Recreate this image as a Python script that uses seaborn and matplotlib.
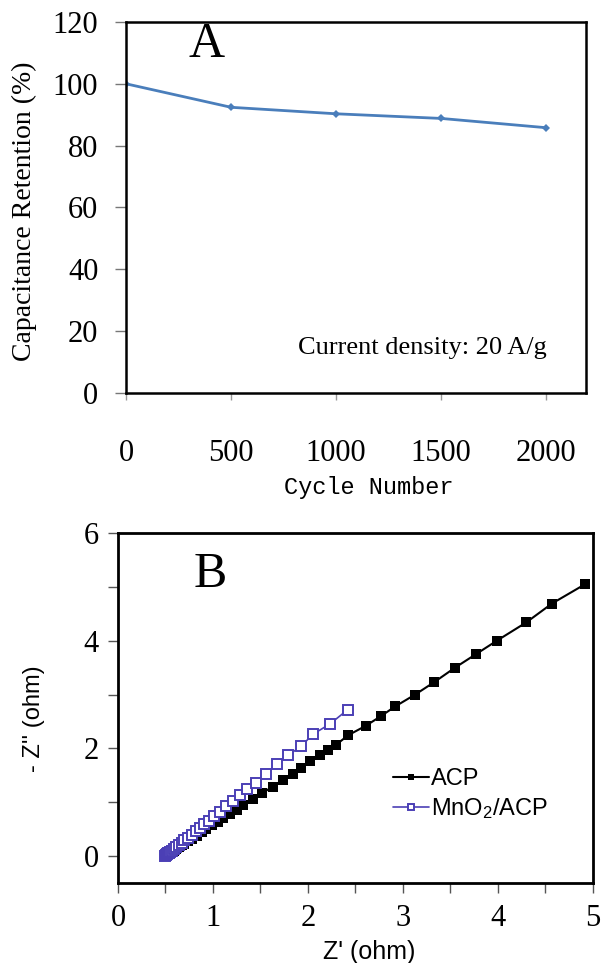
import matplotlib
matplotlib.use('Agg')
import matplotlib.pyplot as plt
import seaborn as sns
import pandas as pd
from matplotlib.ticker import MultipleLocator

sns.set_style('ticks')
plt.rcParams['font.family'] = ['Liberation Serif', 'DejaVu Serif']
plt.rcParams['mathtext.default'] = 'regular'
plt.rcParams['text.color'] = 'black'
plt.rcParams['axes.labelcolor'] = 'black'
plt.rcParams['xtick.labelcolor'] = 'black'
plt.rcParams['ytick.labelcolor'] = 'black'

# panel A: cycling stability
cycles = [0, 500, 1000, 1500, 2000]
retention = [100, 92.4, 90.3, 88.8, 85.8]

# panel B: Nyquist plots
acp_re = [0.50, 0.51, 0.52, 0.53, 0.55, 0.57, 0.59, 0.61, 0.64, 0.67, 0.70, 0.74,
          0.78, 0.83, 0.88, 0.93, 0.99, 1.05, 1.11, 1.18, 1.25, 1.32, 1.42, 1.52,
          1.63, 1.74, 1.84, 1.93, 2.02, 2.13, 2.21, 2.30, 2.42, 2.61, 2.77, 2.92,
          3.13, 3.33, 3.55, 3.77, 3.99, 4.30, 4.57, 4.92]
acp_im = [0.00, 0.01, 0.02, 0.03, 0.05, 0.08, 0.10, 0.13, 0.16, 0.20, 0.23, 0.28,
          0.32, 0.38, 0.44, 0.50, 0.57, 0.63, 0.70, 0.78, 0.86, 0.95, 1.06, 1.17,
          1.29, 1.42, 1.53, 1.64, 1.76, 1.88, 1.97, 2.07, 2.24, 2.42, 2.60, 2.78,
          3.00, 3.23, 3.50, 3.75, 4.00, 4.34, 4.69, 5.05]
mno2_re = [0.50, 0.51, 0.52, 0.53, 0.54, 0.55, 0.57, 0.59, 0.61, 0.64, 0.67, 0.70,
           0.74, 0.78, 0.82, 0.86, 0.91, 0.96, 1.01, 1.07, 1.14, 1.21, 1.28, 1.36,
           1.45, 1.56, 1.67, 1.79, 1.93, 2.05, 2.23, 2.42]
mno2_im = [0.00, 0.02, 0.03, 0.05, 0.06, 0.08, 0.10, 0.13, 0.16, 0.20, 0.24, 0.29,
           0.34, 0.40, 0.46, 0.52, 0.59, 0.66, 0.74, 0.82, 0.93, 1.03, 1.14, 1.25,
           1.36, 1.53, 1.71, 1.87, 2.04, 2.26, 2.45, 2.72]

df_a = pd.DataFrame({'cycle': cycles, 'ret': retention})
df_acp = pd.DataFrame({'re': acp_re, 'im': acp_im})
df_mno2 = pd.DataFrame({'re': mno2_re, 'im': mno2_im})

fig = plt.figure(figsize=(6.01, 9.63), dpi=100)

# ---- A ----
ax1 = fig.add_axes([0.2097, 0.5919, 0.7654, 0.3853])
sns.lineplot(data=df_a, x='cycle', y='ret', ax=ax1, color='#4a7ebb', lw=2,
             marker='D', markersize=4, markeredgewidth=0)
ax1.set_xlim(0, 2190)
ax1.set_ylim(0, 120)
ax1.set_xticks(cycles)
ax1.set_yticks(range(0, 121, 20))
ax1.tick_params(axis='y', labelsize=22, length=8, width=1, pad=12, color='#777777')
ax1.tick_params(axis='x', labelsize=22, length=5, width=1, pad=28, color='#999999')
for s in ax1.spines.values():
    s.set_linewidth(1.8)
    s.set_color('black')
ax1.set_xlabel('Cycle Number', family='Liberation Mono', fontsize=17)
ax1.xaxis.set_label_coords(0.528, -0.224)
ax1.set_ylabel('Capacitance Retention (%)', fontsize=20)
ax1.yaxis.set_label_coords(-0.193, 0.49)
ax1.text(0.176, 0.938, 'A', transform=ax1.transAxes, fontsize=36, ha='center', va='center')
ax1.text(0.644, 0.121, 'Current density: 20 A/g', transform=ax1.transAxes,
         fontsize=19, ha='center', va='center')

# ---- B ----
ax2 = fig.add_axes([0.1963, 0.0831, 0.790, 0.3634])
sns.lineplot(data=df_acp, x='re', y='im', ax=ax2, color='black', lw=1.5,
             marker='s', markersize=6.5, markeredgewidth=0, label='ACP', sort=False)
sns.lineplot(data=df_mno2, x='re', y='im', ax=ax2, color='#4b3fb5', lw=1.2,
             marker='s', markersize=7.5, markerfacecolor='white', markeredgecolor='#4b3fb5',
             markeredgewidth=1.4, label='MnO$_2$/ACP', sort=False)
ax2.set_xlim(0, 5)
ax2.set_ylim(-0.5, 6)
ax2.xaxis.set_major_locator(MultipleLocator(1))
ax2.xaxis.set_minor_locator(MultipleLocator(0.5))
ax2.yaxis.set_major_locator(MultipleLocator(2))
ax2.yaxis.set_minor_locator(MultipleLocator(1))
ax2.tick_params(which='both', labelsize=22, length=7, width=1, color='#555555')
ax2.tick_params(axis='x', pad=8)
ax2.tick_params(axis='y', pad=7)
for s in ax2.spines.values():
    s.set_linewidth(2)
    s.set_color('black')
ax2.set_xlabel("Z' (ohm)", family='Liberation Sans', fontsize=18)
ax2.xaxis.set_label_coords(0.53, -0.163)
ax2.set_ylabel("- Z'' (ohm)", family='Liberation Sans', fontsize=17)
ax2.yaxis.set_label_coords(-0.154, 0.47)
ax2.text(0.194, 0.88, 'B', transform=ax2.transAxes, fontsize=36, ha='center', va='center')
leg = ax2.legend(loc='upper left', bbox_to_anchor=(0.56, 0.355), frameon=False,
                 prop={'family': 'Liberation Sans', 'size': 17}, handlelength=1.5,
                 handletextpad=0.1, labelspacing=0.25, borderaxespad=0, markerscale=0.6)

fig.savefig('out.png', dpi=100)
